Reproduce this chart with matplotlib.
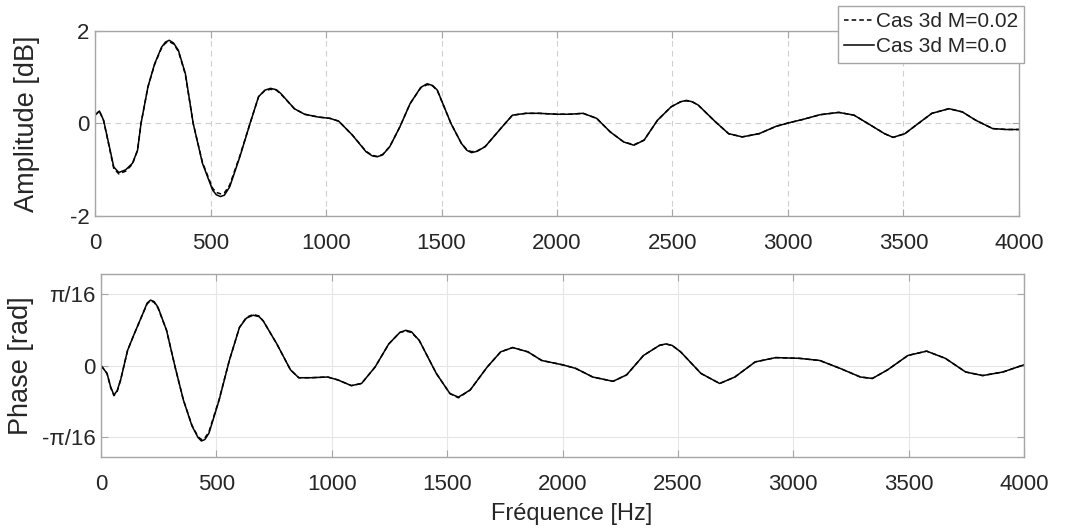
import matplotlib
matplotlib.use('Agg')
import matplotlib.pyplot as plt
import numpy as np

plt.rcParams['font.family'] = 'Liberation Sans'
plt.rcParams['axes.unicode_minus'] = False

# ── data ──
amp_freq = [0, 19, 37, 59, 81, 103, 133, 162, 184, 199, 229, 258, 288, 305, 321, 340,
            361, 391, 425, 465, 509, 525, 543, 560, 583, 627, 671, 708, 735, 760, 785,
            804, 863, 907, 966, 1018, 1055, 1114, 1173, 1200, 1221, 1245, 1276, 1320,
            1364, 1410, 1438, 1462, 1482, 1541, 1586, 1610, 1630, 1655, 1689, 1763,
            1807, 1866, 1922, 2000, 2054, 2113, 2172, 2230, 2289, 2333, 2377, 2435,
            2494, 2535, 2560, 2585, 2611, 2685, 2743, 2802, 2875, 2949, 3000, 3066,
            3139, 3220, 3286, 3359, 3418, 3455, 3506, 3564, 3623, 3697, 3755, 3813,
            3886, 3945, 4000]
amp_m000 = [0.18, 0.27, 0.07, -0.43, -0.94, -1.06, -1.00, -0.86, -0.58, 0.0, 0.79, 1.29,
            1.65, 1.76, 1.80, 1.74, 1.58, 1.08, 0.0, -0.86, -1.44, -1.54, -1.58, -1.55,
            -1.37, -0.72, 0.0, 0.58, 0.72, 0.76, 0.73, 0.65, 0.32, 0.20, 0.14, 0.11,
            0.05, -0.25, -0.61, -0.70, -0.72, -0.68, -0.50, -0.07, 0.43, 0.78, 0.86,
            0.82, 0.72, 0.0, -0.43, -0.58, -0.63, -0.60, -0.50, -0.07, 0.18, 0.22, 0.22,
            0.20, 0.20, 0.22, 0.11, -0.18, -0.40, -0.47, -0.36, 0.07, 0.36, 0.47, 0.50,
            0.47, 0.40, 0.04, -0.22, -0.29, -0.22, -0.06, 0.01, 0.09, 0.19, 0.24, 0.18,
            -0.04, -0.22, -0.30, -0.22, 0.0, 0.22, 0.32, 0.25, 0.07, -0.11, -0.13, -0.13]
amp_m002 = [0.18, 0.27, 0.06, -0.45, -0.97, -1.09, -1.03, -0.88, -0.58, 0.0, 0.79, 1.28,
            1.63, 1.74, 1.77, 1.72, 1.56, 1.06, 0.0, -0.84, -1.40, -1.49, -1.52, -1.50,
            -1.33, -0.70, 0.0, 0.58, 0.71, 0.74, 0.72, 0.64, 0.32, 0.20, 0.14, 0.11,
            0.05, -0.25, -0.60, -0.69, -0.71, -0.67, -0.50, -0.07, 0.43, 0.77, 0.84,
            0.81, 0.71, 0.0, -0.43, -0.57, -0.61, -0.59, -0.50, -0.07, 0.18, 0.22, 0.22,
            0.20, 0.20, 0.22, 0.11, -0.18, -0.40, -0.46, -0.36, 0.07, 0.36, 0.47, 0.49,
            0.47, 0.40, 0.04, -0.22, -0.29, -0.22, -0.06, 0.01, 0.09, 0.19, 0.24, 0.18,
            -0.04, -0.22, -0.30, -0.22, 0.0, 0.22, 0.32, 0.25, 0.07, -0.11, -0.13, -0.13]

ph_freq = [0, 26, 42, 56, 70, 85, 115, 144, 181, 200, 215, 230, 247, 284, 321, 357, 394,
           420, 435, 450, 468, 512, 556, 600, 630, 659, 685, 703, 762, 821, 857, 909,
           982, 1026, 1085, 1129, 1188, 1247, 1295, 1321, 1345, 1379, 1453, 1512, 1549,
           1600, 1674, 1732, 1784, 1850, 1910, 2000, 2057, 2131, 2219, 2278, 2351, 2420,
           2447, 2475, 2512, 2600, 2681, 2747, 2835, 2924, 3026, 3115, 3203, 3291, 3343,
           3409, 3497, 3578, 3659, 3747, 3821, 3909, 4000]
# phase values in units of pi/16
ph_m000 = [0, -0.11, -0.30, -0.41, -0.35, -0.20, 0.21, 0.44, 0.72, 0.87, 0.91, 0.89,
           0.81, 0.49, -0.02, -0.48, -0.84, -1.00, -1.05, -1.03, -0.94, -0.48, 0.07, 0.53,
           0.66, 0.70, 0.68, 0.62, 0.30, -0.06, -0.17, -0.17, -0.16, -0.20, -0.28, -0.25,
           -0.02, 0.30, 0.46, 0.49, 0.47, 0.35, -0.11, -0.39, -0.44, -0.34, -0.02, 0.19,
           0.25, 0.19, 0.07, 0.01, -0.04, -0.16, -0.22, -0.13, 0.14, 0.28, 0.30, 0.28,
           0.19, -0.11, -0.25, -0.16, 0.05, 0.11, 0.10, 0.07, -0.04, -0.16, -0.18, -0.06,
           0.14, 0.20, 0.10, -0.09, -0.14, -0.09, 0.01]
ph_m002 = [0, -0.11, -0.31, -0.42, -0.36, -0.20, 0.21, 0.44, 0.72, 0.86, 0.90, 0.88,
           0.80, 0.49, -0.02, -0.48, -0.83, -0.99, -1.03, -1.01, -0.92, -0.47, 0.07, 0.53,
           0.67, 0.71, 0.69, 0.62, 0.30, -0.06, -0.17, -0.17, -0.16, -0.20, -0.28, -0.25,
           -0.02, 0.30, 0.46, 0.48, 0.46, 0.35, -0.11, -0.39, -0.45, -0.34, -0.02, 0.19,
           0.25, 0.19, 0.07, 0.01, -0.04, -0.16, -0.22, -0.13, 0.14, 0.28, 0.30, 0.28,
           0.19, -0.11, -0.25, -0.16, 0.05, 0.11, 0.10, 0.07, -0.04, -0.16, -0.18, -0.06,
           0.14, 0.20, 0.10, -0.09, -0.14, -0.09, 0.01]

legend_labels = ['Cas 3d M=0.02', 'Cas 3d M=0.0']
x_ticks = [0, 500, 1000, 1500, 2000, 2500, 3000, 3500, 4000]

FRAME = '#a6a6a6'
TXT = '#262626'

fig = plt.figure(figsize=(10.69, 5.29), dpi=100)
ax1 = fig.add_axes([0.0889, 0.5917, 0.8643, 0.3497])
ax2 = fig.add_axes([0.0945, 0.1361, 0.8634, 0.3459])


def style(ax):
    for s in ax.spines.values():
        s.set_color(FRAME)
        s.set_linewidth(1.0)
    ax.tick_params(direction='in', length=5, width=0.8, color=FRAME,
                   labelcolor=TXT, labelsize=16, top=True, right=True)
    ax.tick_params(axis='x', pad=12)
    ax.tick_params(axis='y', pad=4)
    ax.set_xlim(0, 4000)
    ax.set_xticks(x_ticks)


# ── Amplitude ──
ax1.plot(amp_freq, amp_m002, color='black', lw=1.1, dashes=(3, 2), label=legend_labels[0])
ax1.plot(amp_freq, amp_m000, color='black', lw=1.1, label=legend_labels[1])
style(ax1)
ax1.set_ylim(-2, 2)
ax1.set_yticks([-2, 0, 2])
ax1.set_yticklabels(['-2', '0', '2'])
ax1.grid(True, ls=(0, (5, 4)), color='#cfcfcf', lw=0.8)
ax1.set_ylabel('Amplitude [dB]', fontsize=19.5, color=TXT)
ax1.yaxis.set_label_coords(-0.0595, 0.5)

leg = ax1.legend(loc='upper right', bbox_to_anchor=(0.958, 0.989),
                 bbox_transform=fig.transFigure, fontsize=15, fancybox=False,
                 framealpha=1, edgecolor=FRAME, handlelength=1.4, handletextpad=0.1,
                 borderpad=0.3, labelspacing=0.3, borderaxespad=0)
leg.get_frame().set_linewidth(1.0)
for t in leg.get_texts():
    t.set_color(TXT)

# ── Phase ──
ax2.plot(ph_freq, np.pi / 16 * np.array(ph_m002), color='black', lw=1.1, dashes=(3, 2))
ax2.plot(ph_freq, np.pi / 16 * np.array(ph_m000), color='black', lw=1.1)
style(ax2)
ax2.set_ylim(-0.25, 0.25)
ax2.set_yticks([-np.pi / 16, 0, np.pi / 16])
ax2.set_yticklabels(['-π/16', '0', 'π/16'])
ax2.grid(True, ls='-', color='#e6e6e6', lw=0.8)
ax2.set_ylabel('Phase [rad]', fontsize=19.5, color=TXT)
ax2.yaxis.set_label_coords(-0.0726, 0.5)
ax2.set_xlabel('Fréquence [Hz]', fontsize=17, color=TXT)
ax2.xaxis.set_label_coords(0.51, -0.31)
ax2.xaxis.label.set_va('center')

fig.savefig('out.png', dpi=100, facecolor='white')
plt.close()
